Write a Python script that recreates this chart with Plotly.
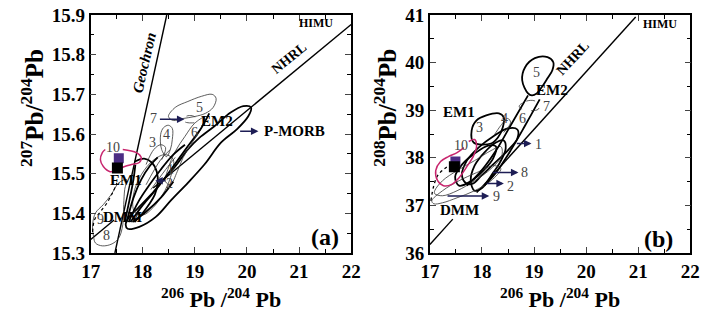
import plotly.graph_objects as go

FONT = "Liberation Serif"

# ---------------- Panel (a): 207Pb/204Pb vs 206Pb/204Pb ----------------
A_NHRL1_X = [17.0, 17.45]
A_NHRL1_Y = [15.334, 15.3830]
A_NHRL2_X = [18.2, 22.0]
A_NHRL2_Y = [15.4640, 15.876]
A_GEO_X = [17.465, 18.46]
A_GEO_Y = [15.3, 15.9]

A_PMORB_X = [17.709, 17.933, 18.25, 18.549, 18.866, 19.183, 19.5, 19.799, 20.022, 20.078,
             19.929, 19.687, 19.369, 19.09, 18.866, 18.623, 18.399, 18.157, 17.914, 17.728, 17.672]
A_PMORB_Y = [15.361, 15.366, 15.391, 15.434, 15.477, 15.523, 15.578, 15.611, 15.644, 15.667,
             15.670, 15.654, 15.619, 15.591, 15.561, 15.518, 15.485, 15.447, 15.414, 15.389, 15.371]
A_F5_X = [18.493, 18.623, 18.866, 19.127, 19.332, 19.407, 19.351, 19.201, 18.996, 18.772, 18.586]
A_F5_Y = [15.644, 15.667, 15.682, 15.695, 15.700, 15.690, 15.667, 15.652, 15.644, 15.639, 15.634]
A_F6_X = [19.183, 19.108, 18.922, 18.772, 18.661, 18.530, 18.437, 18.493, 18.623, 18.810, 18.996]
A_F6_Y = [15.642, 15.611, 15.573, 15.540, 15.505, 15.472, 15.480, 15.515, 15.556, 15.594, 15.627]
A_F7_X = [18.77, 18.84, 18.95, 19.05, 19.04, 18.95, 18.84, 18.78]
A_F7_Y = [15.637, 15.645, 15.646, 15.638, 15.630, 15.628, 15.629, 15.633]
A_F4_X = [18.362, 18.343, 18.399, 18.493, 18.567, 18.567, 18.530, 18.455]
A_F4_Y = [15.561, 15.599, 15.616, 15.622, 15.614, 15.586, 15.561, 15.543]
A_F2_X = [17.821, 17.970, 18.213, 18.437, 18.586, 18.530, 18.381, 18.194, 18.007, 17.840]
A_F2_Y = [15.447, 15.497, 15.535, 15.548, 15.535, 15.490, 15.447, 15.414, 15.396, 15.404]
A_F8_X = [17.093, 17.224, 17.410, 17.541, 17.616, 17.634, 17.653, 17.690, 17.541, 17.392,
          17.243, 17.093, 17.037, 17.056]
A_F8_Y = [15.325, 15.318, 15.323, 15.338, 15.371, 15.422, 15.460, 15.485, 15.477, 15.447,
          15.422, 15.401, 15.371, 15.341]
A_F9_X = [17.037, 17.075, 17.187, 17.317, 17.429, 17.504]
A_F9_Y = [15.353, 15.384, 15.404, 15.427, 15.454, 15.477]
A_F10_X = [17.616, 17.877, 17.970, 17.933, 17.784, 17.653, 17.522, 17.373, 17.243, 17.187, 17.224, 17.280]
A_F10_Y = [15.561, 15.553, 15.541, 15.528, 15.523, 15.518, 15.510, 15.505, 15.518, 15.535, 15.553, 15.561]
A_L1_X = [17.653, 17.746, 17.821, 17.858]
A_L1_Y = [15.378, 15.434, 15.485, 15.523]
A_L2_X = [17.690, 17.821, 17.970, 18.138, 18.287]
A_L2_Y = [15.378, 15.439, 15.485, 15.520, 15.541]
A_L3_X = [17.728, 17.914, 18.119, 18.343, 18.586, 18.810]
A_L3_Y = [15.378, 15.429, 15.470, 15.510, 15.548, 15.573]
A_L4_X = [17.765, 18.007, 18.287, 18.567, 18.847, 19.127, 19.276]
A_L4_Y = [15.378, 15.422, 15.465, 15.515, 15.566, 15.616, 15.652]
A_L5_X = [17.802, 18.063, 18.343, 18.586]
A_L5_Y = [15.378, 15.404, 15.439, 15.480]
A_C_X = [17.840, 18.026, 18.175, 18.269, 18.287, 18.231, 18.119, 17.989, 17.840]
A_C_Y = [15.530, 15.538, 15.528, 15.505, 15.477, 15.447, 15.422, 15.399, 15.378]
A_T1_X = [18.063, 18.343, 18.530]
A_T1_Y = [15.472, 15.535, 15.561]
A_T2_X = [18.157, 18.437, 18.623]
A_T2_Y = [15.460, 15.510, 15.541]
A_T3_X = [18.063, 18.213, 18.343, 18.437, 18.362]
A_T3_Y = [15.523, 15.561, 15.573, 15.566, 15.535]

A_SAMPLE_BLACK = (17.513, 15.514)
A_SAMPLE_PURPLE = (17.54, 15.539)

A_NUM_LABELS = ["1", "2", "3", "4", "5", "6", "7", "8", "9", "10"]
A_NUM_X = [18.54, 18.51, 18.18, 18.46, 19.09, 19.00, 18.20, 17.31, 17.19, 17.43]
A_NUM_Y = [15.51, 15.474, 15.578, 15.599, 15.666, 15.605, 15.638, 15.344, 15.385, 15.566]
A_END_LABELS = ["EM1", "EM2", "DMM", "P-MORB", "HIMU"]
A_END_X = [17.68, 19.42, 17.62, 20.92, 21.33]
A_END_Y = [15.485, 15.632, 15.392, 15.607, 15.88]

# ---------------- Panel (b): 208Pb/204Pb vs 206Pb/204Pb ----------------
B_NHRL1_X = [17.0, 17.44]
B_NHRL1_Y = [36.18, 36.712]
B_NHRL2_X = [17.9, 20.95]
B_NHRL2_Y = [37.268, 40.956]

B_F5_X = [18.884, 18.772, 18.828, 19.015, 19.258, 19.369, 19.351, 19.258, 19.146, 19.052, 18.959]
B_F5_Y = [39.354, 39.629, 39.903, 40.093, 40.114, 40.008, 39.840, 39.671, 39.481, 39.354, 39.312]
B_F3_X = [17.840, 17.802, 17.896, 18.082, 18.325, 18.418, 18.399, 18.306, 18.175]
B_F3_Y = [38.321, 38.574, 38.785, 38.890, 38.933, 38.848, 38.637, 38.426, 38.300]
B_E1_X = [17.709, 17.616, 17.709, 17.933, 18.213, 18.493, 18.679, 18.679, 18.493, 18.231, 17.989, 17.821]
B_E1_Y = [37.456, 37.625, 37.941, 38.215, 38.447, 38.616, 38.595, 38.405, 38.152, 37.878, 37.625, 37.456]
B_E2_X = [17.858, 17.784, 17.858, 18.045, 18.269, 18.418, 18.455, 18.343, 18.175, 18.007]
B_E2_Y = [37.308, 37.519, 37.836, 38.110, 38.321, 38.363, 38.194, 37.899, 37.625, 37.371]
B_E3_X = [17.560, 17.485, 17.616, 17.858, 18.119, 18.269, 18.213, 18.026, 17.802]
B_E3_Y = [37.414, 37.603, 37.857, 38.089, 38.257, 38.236, 37.983, 37.730, 37.519]
B_E4_X = [17.093, 17.243, 17.522, 17.858, 18.175, 18.362, 18.381, 18.175, 17.858, 17.522, 17.243, 17.093]
B_E4_Y = [37.308, 37.519, 37.730, 37.941, 38.152, 38.236, 38.046, 37.772, 37.519, 37.308, 37.203, 37.245]
B_F9_X = [17.037, 17.243, 17.560, 17.896, 18.231, 18.362, 18.175, 17.858, 17.522, 17.243, 17.075]
B_F9_Y = [37.097, 37.308, 37.519, 37.688, 37.836, 37.772, 37.519, 37.308, 37.160, 37.055, 37.034]
B_DOT_X = [17.019, 17.075, 17.149, 17.280, 17.429]
B_DOT_Y = [37.097, 37.414, 37.625, 37.772, 37.878]
B_LA_X = [18.884, 18.549, 18.269, 17.989, 17.709]
B_LA_Y = [39.312, 38.679, 38.152, 37.730, 37.414]
B_LB_X = [19.108, 18.828, 18.549, 18.269, 18.045]
B_LB_Y = [39.228, 38.679, 38.152, 37.688, 37.414]
B_F4_X = [18.231, 18.362, 18.493, 18.549, 18.418]
B_F4_Y = [38.468, 38.679, 38.827, 38.743, 38.532]
B_F7_X = [18.72, 18.85, 19.00, 19.10, 19.08, 18.95, 18.80, 18.72]
B_F7_Y = [39.10, 39.19, 39.20, 39.12, 39.02, 38.99, 39.01, 39.06]
B_F10_X = [17.746, 17.858, 17.896, 17.840, 17.709, 17.560, 17.410, 17.261, 17.149, 17.112,
           17.205, 17.354, 17.522, 17.653]
B_F10_Y = [38.342, 38.384, 38.236, 38.046, 37.814, 37.582, 37.435, 37.413, 37.519, 37.730,
           37.920, 38.025, 38.110, 38.215]

B_SAMPLE_BLACK = (17.47, 37.81)
B_SAMPLE_PURPLE = (17.49, 37.92)

B_NUM_LABELS = ["1", "2", "3", "4", "5", "6", "7", "8", "9", "10"]
B_NUM_X = [19.08, 18.54, 17.96, 18.44, 19.05, 18.77, 19.23, 18.82, 18.27, 17.59]
B_NUM_Y = [38.29, 37.39, 38.63, 38.82, 39.79, 38.83, 39.07, 37.69, 37.18, 38.26]
B_END_LABELS = ["EM1", "EM2", "DMM", "HIMU"]
B_END_X = [17.56, 19.35, 17.56, 21.42]
B_END_Y = [38.96, 39.42, 36.90, 40.81]

fig = go.Figure()

THICK = dict(color="black", width=1.8)
THIN = dict(color="#333333", width=0.8)


def add(x, y, xa, ya, line, closed=False, dash=None, shape="spline"):
    xs, ys = list(x), list(y)
    if closed:
        xs.append(xs[0])
        ys.append(ys[0])
    ln = dict(line)
    if dash:
        ln["dash"] = dash
    ln["shape"] = shape
    fig.add_trace(go.Scatter(x=xs, y=ys, mode="lines", line=ln, xaxis=xa, yaxis=ya,
                             hoverinfo="skip", showlegend=False))


# panel a
for xx, yy in [(A_NHRL1_X, A_NHRL1_Y), (A_NHRL2_X, A_NHRL2_Y), (A_GEO_X, A_GEO_Y)]:
    add(xx, yy, "x", "y", dict(color="black", width=1.4), shape="linear")
add(A_PMORB_X, A_PMORB_Y, "x", "y", THICK, closed=True)
add(A_F5_X, A_F5_Y, "x", "y", THIN, closed=True)
add(A_F6_X, A_F6_Y, "x", "y", THIN, closed=True)
add(A_F7_X, A_F7_Y, "x", "y", THIN, closed=True, dash="dash")
add(A_F4_X, A_F4_Y, "x", "y", THIN, closed=True)
add(A_F2_X, A_F2_Y, "x", "y", THIN, closed=True)
add(A_F8_X, A_F8_Y, "x", "y", THIN, closed=True)
add(A_F9_X, A_F9_Y, "x", "y", dict(color="black", width=1.2), dash="dot")
for xx, yy in [(A_L1_X, A_L1_Y), (A_L2_X, A_L2_Y), (A_L3_X, A_L3_Y), (A_L4_X, A_L4_Y),
               (A_L5_X, A_L5_Y), (A_C_X, A_C_Y)]:
    add(xx, yy, "x", "y", THICK)
for xx, yy in [(A_T1_X, A_T1_Y), (A_T2_X, A_T2_Y), (A_T3_X, A_T3_Y)]:
    add(xx, yy, "x", "y", THIN)
add(A_F10_X, A_F10_Y, "x", "y", dict(color="#c8266e", width=1.5))

# panel b
for xx, yy in [(B_NHRL1_X, B_NHRL1_Y), (B_NHRL2_X, B_NHRL2_Y)]:
    add(xx, yy, "x2", "y2", dict(color="black", width=1.4), shape="linear")
add(B_F5_X, B_F5_Y, "x2", "y2", THICK, closed=True)
add(B_F3_X, B_F3_Y, "x2", "y2", THICK, closed=True)
add(B_E1_X, B_E1_Y, "x2", "y2", THICK, closed=True)
add(B_E2_X, B_E2_Y, "x2", "y2", THICK, closed=True)
add(B_E3_X, B_E3_Y, "x2", "y2", THICK, closed=True)
add(B_E4_X, B_E4_Y, "x2", "y2", THIN, closed=True)
add(B_F9_X, B_F9_Y, "x2", "y2", THIN, closed=True)
add(B_DOT_X, B_DOT_Y, "x2", "y2", dict(color="black", width=1.3), dash="dot")
add(B_LA_X, B_LA_Y, "x2", "y2", THICK)
add(B_LB_X, B_LB_Y, "x2", "y2", THICK)
add(B_F4_X, B_F4_Y, "x2", "y2", THIN)
add(B_F7_X, B_F7_Y, "x2", "y2", THIN, closed=True, dash="dash")
add(B_F10_X, B_F10_Y, "x2", "y2", dict(color="#c8266e", width=1.5))

# samples
for (px_, py_), (bx, by), xa, ya in [(A_SAMPLE_PURPLE, A_SAMPLE_BLACK, "x", "y"),
                                     (B_SAMPLE_PURPLE, B_SAMPLE_BLACK, "x2", "y2")]:
    fig.add_trace(go.Scatter(x=[px_], y=[py_], mode="markers", xaxis=xa, yaxis=ya,
                             marker=dict(symbol="square", size=10, color="#4b2d84"),
                             hoverinfo="skip", showlegend=False))
    fig.add_trace(go.Scatter(x=[bx], y=[by], mode="markers", xaxis=xa, yaxis=ya,
                             marker=dict(symbol="square", size=11, color="black"),
                             hoverinfo="skip", showlegend=False))

ann = []


def label(text, x, y, xr, yr, size=13, bold=False, color="black", angle=0, italic=False):
    t = text
    if bold:
        t = "<b>" + t + "</b>"
    if italic:
        t = "<i>" + t + "</i>"
    ann.append(dict(text=t, x=x, y=y, xref=xr, yref=yr, showarrow=False, textangle=angle,
                    xanchor="center", yanchor="middle",
                    font=dict(family=FONT, size=size, color=color)))


for t, x, y in zip(A_NUM_LABELS, A_NUM_X, A_NUM_Y):
    label(t, x, y, "x", "y", size=14, color="#444444")
for t, x, y in zip(A_END_LABELS, A_END_X, A_END_Y):
    label(t, x, y, "x", "y", size=12 if t == "HIMU" else 15, bold=True)
for t, x, y in zip(B_NUM_LABELS, B_NUM_X, B_NUM_Y):
    label(t, x, y, "x2", "y2", size=14, color="#444444")
for t, x, y in zip(B_END_LABELS, B_END_X, B_END_Y):
    label(t, x, y, "x2", "y2", size=12 if t == "HIMU" else 15, bold=True)

label("Geochron", 18.02, 15.78, "x", "y", size=15, bold=True, italic=True, angle=-77)
label("NHRL", 20.80, 15.79, "x", "y", size=14, bold=True, angle=-39)
label("NHRL", 19.74, 40.08, "x2", "y2", size=14, bold=True, angle=-47)
label("(a)", 21.5, 15.34, "x", "y", size=24, bold=True)
label("(b)", 21.38, 36.29, "x2", "y2", size=24, bold=True)

# arrows
ARROW_C = "#1d1d55"
for (x0, y0, x1, y1, xr, yr) in [
    (18.30, 15.637, 18.80, 15.637, "x", "y"),
    (19.84, 15.607, 20.22, 15.607, "x", "y"),
    (18.46, 15.482, 18.24, 15.482, "x", "y"),
    (18.64, 38.30, 18.95, 38.30, "x2", "y2"),
    (18.18, 37.69, 18.70, 37.69, "x2", "y2"),
    (18.06, 37.46, 18.42, 37.46, "x2", "y2"),
    (17.31, 37.20, 18.14, 37.20, "x2", "y2"),
]:
    ann.append(dict(x=x1, y=y1, ax=x0, ay=y0, xref=xr, yref=yr, axref=xr, ayref=yr,
                    showarrow=True, arrowhead=2, arrowsize=1, arrowwidth=1.5,
                    arrowcolor=ARROW_C, text=""))

# axis titles
TFY = dict(family=FONT, size=25, color="black")
TFX = dict(family=FONT, size=22, color="black")
ann.append(dict(text="<b><sup>207</sup>Pb/<sup>204</sup>Pb</b>", x=0.032, y=0.61, xref="paper",
                yref="paper", showarrow=False, textangle=-90, xanchor="center", yanchor="middle",
                font=TFY))
ann.append(dict(text="<b><sup>208</sup>Pb/<sup>204</sup>Pb</b>", x=0.541, y=0.61, xref="paper",
                yref="paper", showarrow=False, textangle=-90, xanchor="center", yanchor="middle",
                font=TFY))
ann.append(dict(text="<b><sup>206</sup> Pb /<sup>204</sup> Pb</b>", x=0.305, y=-0.19, xref="paper",
                yref="paper", showarrow=False, xanchor="center", yanchor="middle", font=TFX))
ann.append(dict(text="<b><sup>206</sup> Pb /<sup>204</sup> Pb</b>", x=0.793, y=-0.19, xref="paper",
                yref="paper", showarrow=False, xanchor="center", yanchor="middle", font=TFX))

TICKF = dict(family=FONT, size=19, color="black", weight="bold")
common_x = dict(range=[17, 22], dtick=1, tick0=17, ticks="inside", ticklen=6, tickwidth=1,
                showline=True, linecolor="black", linewidth=1.5, mirror="ticks",
                showgrid=False, zeroline=False, tickfont=TICKF,
                minor=dict(dtick=0.5, ticks="inside", ticklen=4, tickcolor="black", showgrid=False))

fig.update_layout(
    width=713, height=327,
    margin=dict(l=0, r=0, t=15, b=74),
    paper_bgcolor="white", plot_bgcolor="white",
    xaxis=dict(domain=[83 / 713, 351 / 713], anchor="y", **common_x),
    xaxis2=dict(domain=[432 / 713, 700 / 713], anchor="y2", **common_x),
    yaxis=dict(range=[15.3, 15.9], dtick=0.1, tick0=15.3, tickformat=".1f", ticks="inside",
               ticklen=6, showline=True, linecolor="black", linewidth=1.5, mirror="ticks",
               showgrid=False, zeroline=False, tickfont=TICKF, anchor="x",
               minor=dict(dtick=0.05, ticks="inside", ticklen=4, tickcolor="black", showgrid=False)),
    yaxis2=dict(range=[36, 41], dtick=1, tick0=36, ticks="inside",
                ticklen=6, showline=True, linecolor="black", linewidth=1.5, mirror="ticks",
                showgrid=False, zeroline=False, tickfont=TICKF, anchor="x2",
                minor=dict(dtick=0.5, ticks="inside", ticklen=4, tickcolor="black", showgrid=False)),
    annotations=ann,
)

fig.write_html("out.html")
